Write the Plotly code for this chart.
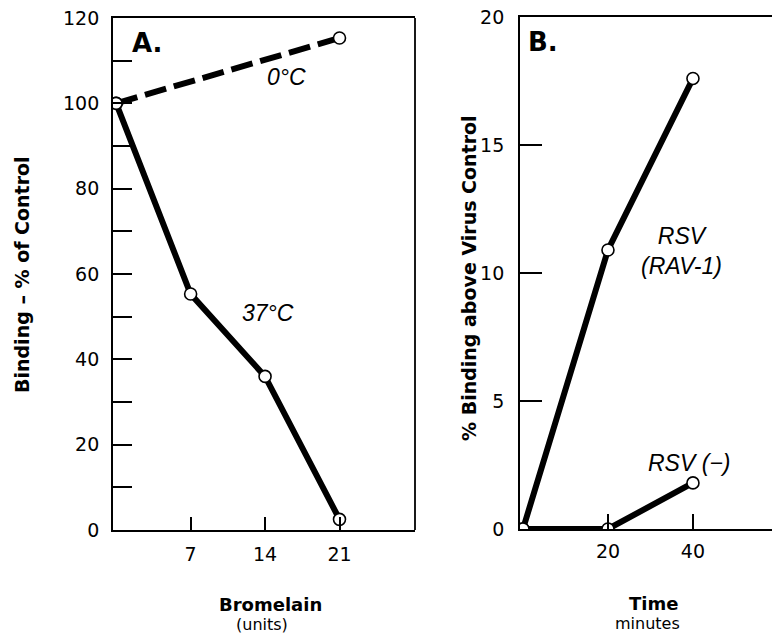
import plotly.graph_objects as go

W, H = 772, 635

# Panel A data
a_x_37 = [0, 7, 14, 21]
a_y_37 = [100, 55.3, 36.0, 2.5]
a_x_0 = [0, 21]
a_y_0 = [100, 115.3]
a_xticks = [7, 14, 21]
a_xticklabels = ["7", "14", "21"]
a_yticks = [0, 20, 40, 60, 80, 100, 120]

# Panel B data
b_x_rav = [0, 20, 40]
b_y_rav = [0, 10.9, 17.6]
b_x_neg = [0, 20, 40]
b_y_neg = [0, 0, 1.8]
b_xticks = [20, 40]
b_yticks = [0, 5, 10, 15, 20]


def px(x):
    return x / W


def py(y):
    return 1 - y / H


FONT = "DejaVu Sans"
LBL = "Liberation Sans"
fig = go.Figure()

line_style = dict(color="black", width=6)
marker_style = dict(symbol="circle", size=12, color="white",
                    line=dict(color="black", width=1.6))

fig.add_trace(go.Scatter(x=a_x_0, y=a_y_0, mode="lines+markers", xaxis="x", yaxis="y",
                         line=dict(color="black", width=6, dash="22px,8px"),
                         marker=marker_style, showlegend=False))
fig.add_trace(go.Scatter(x=a_x_37, y=a_y_37, mode="lines+markers", xaxis="x", yaxis="y",
                         line=line_style, marker=marker_style, showlegend=False))
fig.add_trace(go.Scatter(x=b_x_neg, y=b_y_neg, mode="lines+markers", xaxis="x2", yaxis="y2",
                         line=line_style, marker=marker_style, showlegend=False))
fig.add_trace(go.Scatter(x=b_x_rav, y=b_y_rav, mode="lines+markers", xaxis="x2", yaxis="y2",
                         line=line_style, marker=marker_style, showlegend=False))

tickfont = dict(family=FONT, size=19, color="black")
axis_common = dict(showline=True, linecolor="black", linewidth=1.8, showgrid=False,
                   zeroline=False, ticks="inside", tickcolor="black", tickwidth=1.8,
                   tickfont=tickfont, automargin=False)

fig.update_layout(
    width=W, height=H,
    margin=dict(l=0, r=0, t=0, b=0, autoexpand=False),
    paper_bgcolor="white", plot_bgcolor="white",
    xaxis=dict(axis_common, domain=[px(113), px(415)], range=[-0.3, 28.1],
               tickvals=a_xticks, ticktext=a_xticklabels, ticklen=13, mirror=True,
               anchor="y", ticklabelstandoff=6),
    yaxis=dict(axis_common, domain=[py(530), py(18)], range=[0, 120],
               tickvals=a_yticks, ticklen=19, mirror=False, anchor="x",
               minor=dict(tickvals=[10, 30, 50, 70, 90, 110], ticklen=19, ticks="inside",
                          tickcolor="black", tickwidth=1.8),
               ticklabelstandoff=8),
    xaxis2=dict(axis_common, domain=[px(520), 1.0], range=[-0.7, 58.6],
                tickvals=b_xticks, ticklen=15, mirror=True, anchor="y2",
                ticklabelstandoff=4),
    yaxis2=dict(axis_common, domain=[py(529), py(17)], range=[0, 20],
                tickvals=b_yticks, ticklen=22, mirror=False, anchor="x2",
                ticklabelstandoff=10),
)

# right border of panel A
fig.add_shape(type="line", xref="x domain", yref="y domain", x0=1, x1=1, y0=0, y1=1,
              line=dict(color="black", width=1.8))

ann = []


def add(text, x, y, size, bold=False, italic=False, angle=0, xanchor="center", family=FONT):
    t = text
    if bold:
        t = "<b>" + t + "</b>"
    if italic:
        t = "<i>" + t + "</i>"
    ann.append(dict(text=t, x=px(x), y=py(y), xref="paper", yref="paper",
                    showarrow=False, textangle=angle, xanchor=xanchor, yanchor="middle",
                    font=dict(family=family, size=size, color="black")))


add("A.", 147, 43, 26, bold=True)
add("B.", 543, 42, 26, bold=True)
add("0°C", 286, 77, 23, italic=True, family=LBL)
add("37°C", 268, 313, 23, italic=True, family=LBL)
add("RSV<br>(RAV-1)", 639, 251, 23, italic=True, xanchor="left", family=LBL)
add("RSV (−)", 646, 463, 23, italic=True, xanchor="left", family=LBL)
add("Binding – % of Control", 22, 275, 19, bold=True, angle=-90)
add("% Binding above Virus Control", 469, 278, 19, bold=True, angle=-90)
add("Bromelain", 270, 604, 18, bold=True)
add("(units)", 262, 624, 16)
add("Time", 653, 603, 18, bold=True)
add("minutes", 647, 623, 16)

fig.update_layout(annotations=ann)
fig.write_html("out.html", config={"displayModeBar": False},
               post_script="document.body.style.margin='0';")
